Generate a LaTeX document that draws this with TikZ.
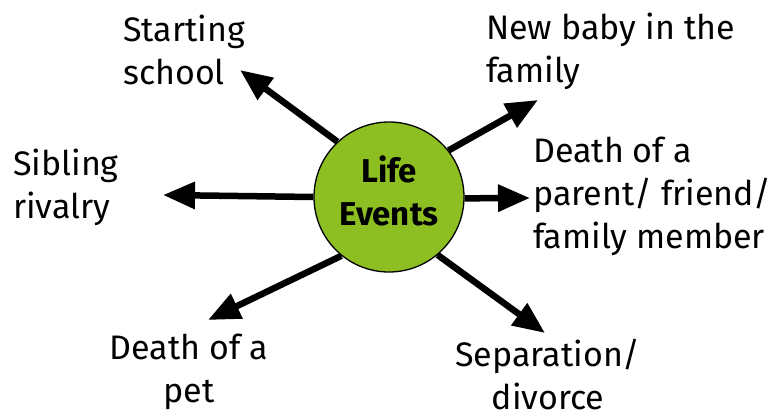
\documentclass[tikz,border=0pt]{standalone}
\usepackage{fontspec}
\setmainfont{Fira Sans}
\usepackage{tikz}
\usetikzlibrary{arrows.meta,backgrounds}
\definecolor{lifegreen}{HTML}{8DBF22}

\begin{document}
\begin{tikzpicture}[
    x=1pt, y=-1pt,
    hub/.style={circle, draw, line width=1.3pt, fill=lifegreen, minimum size=150pt, inner sep=0pt,
                font=\fontsize{33}{43}\selectfont\bfseries, align=center, text depth=12pt},
    event/.style={inner sep=0pt, font=\fontsize{34}{43}\selectfont},
    ray/.style={line width=6.5pt, -{Triangle[length=32pt, width=26pt]}},
    >=Stealth
]
    \useasboundingbox (0,0) rectangle (770,410);

    % Centre
    \node[hub] (life) at (389,197) {Life\\Events};

    % Events round the centre (base = last line)
    \node[event, anchor=base west, align=left] (school) at (123,84) {Starting\\school};
    \node[event, anchor=base west, align=left] (baby) at (486,82) {New baby in the\\family};
    \node[event, anchor=base west, align=left] (sibling) at (13,218) {Sibling\\rivalry};
    \node[event, anchor=base west, align=left] (parent) at (533,248) {Death of a\\parent/ friend/\\family member};
    \node[event, anchor=base, align=center] (pet) at (189,402) {Death of a\\pet};
    \node[event, anchor=base, align=center] (split) at (548,409) {Separation/\\divorce};

    % Arrow tips
    \coordinate (tschool) at (240,70);
    \coordinate (tbaby) at (538,100);
    \coordinate (tsibling) at (163,195);
    \coordinate (tparent) at (530,198);
    \coordinate (tpet) at (208,320);
    \coordinate (tsplit) at (545,333);

    \begin{scope}[on background layer]
        \draw[ray] (life.133) -- (tschool);
        \draw[ray] (life.38) -- (tbaby);
        \draw[ray] (life.180) -- (tsibling);
        \draw[ray] (life.-1) -- (tparent);
        \draw[ray] (life.231) -- (tpet);
        \draw[ray] (life.310) -- (tsplit);
    \end{scope}
\end{tikzpicture}
\end{document}
